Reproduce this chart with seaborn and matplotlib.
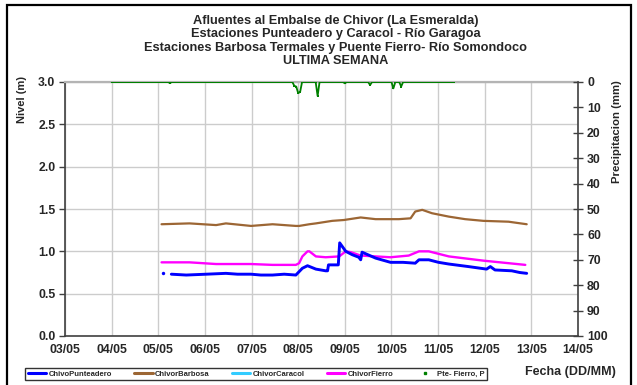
import numpy as np
import pandas as pd
import matplotlib
matplotlib.use("Agg")
import matplotlib.pyplot as plt
from matplotlib.lines import Line2D
from matplotlib.patches import Rectangle
import seaborn as sns

# ---------------------------------------------------------------- data
# x axis: days counted from 03/05 00:00
day_labels = ["03/05", "04/05", "05/05", "06/05", "07/05", "08/05",
              "09/05", "10/05", "11/05", "12/05", "13/05", "14/05"]

# ChivoPunteadero level (m)
punteadero_day = [2.10, 2.28, 2.60, 3.03, 3.45, 3.70, 3.99, 4.20, 4.45, 4.70, 4.95,
                  5.09, 5.20, 5.38, 5.59, 5.63, 5.65, 5.86, 5.89, 6.02, 6.16, 6.30,
                  6.34, 6.37, 6.66, 6.98, 7.25, 7.51, 7.59, 7.80, 8.01, 8.23, 8.65,
                  9.04, 9.12, 9.22, 9.58, 9.75, 9.90]
punteadero_m = [np.nan, 0.73, 0.72, 0.73, 0.74, 0.73, 0.73, 0.72, 0.72, 0.73, 0.72,
                0.80, 0.83, 0.79, 0.77, 0.77, 0.84, 0.84, 1.10, 1.00, 0.96, 0.93,
                0.90, 0.99, 0.92, 0.87, 0.87, 0.86, 0.90, 0.90, 0.87, 0.85, 0.82,
                0.79, 0.82, 0.78, 0.77, 0.75, 0.74]
# isolated first reading before the record gap
punteadero_first_day = [2.10]
punteadero_first_m = [0.75]

# ChivorBarbosa level (m)
barbosa_day = [2.07, 2.67, 3.24, 3.45, 3.99, 4.45, 4.95, 5.02, 5.24, 5.38, 5.73,
               5.98, 6.34, 6.66, 7.16, 7.41, 7.51, 7.66, 7.87, 8.23, 8.58, 8.97,
               9.51, 9.90]
barbosa_m = [1.32, 1.33, 1.31, 1.33, 1.30, 1.32, 1.30, 1.30, 1.32, 1.33, 1.36,
             1.37, 1.40, 1.38, 1.38, 1.39, 1.47, 1.49, 1.45, 1.41, 1.38, 1.36,
             1.35, 1.32]

# ChivorFierro level (m)
fierro_day = [2.07, 2.67, 3.24, 3.99, 4.45, 4.95, 5.02, 5.09, 5.20, 5.24, 5.38,
              5.59, 5.88, 6.02, 6.13, 6.34, 6.66, 6.98, 7.37, 7.59, 7.80, 8.23,
              8.97, 9.51, 9.87]
fierro_m = [0.87, 0.87, 0.85, 0.85, 0.84, 0.84, 0.86, 0.94, 1.00, 1.00, 0.94,
            0.93, 0.94, 1.00, 0.99, 0.95, 0.94, 0.93, 0.95, 1.00, 1.00, 0.94,
            0.89, 0.86, 0.84]

# Pte- Fierro rainfall: hourly record, dry except for these hours
rain_hours = np.arange(24, 201)
rain_event_hour = [54, 118, 119, 120, 121, 130, 144, 157, 169, 173]
rain_event_mm = [0.4, 1.5, 1.8, 4.4, 3.9, 5.5, 0.5, 1.2, 2.5, 1.8]

# ---------------------------------------------------------------- frames
levels = pd.concat([
    pd.DataFrame({"dia": punteadero_day, "nivel": punteadero_m, "estacion": "ChivoPunteadero"}),
    pd.DataFrame({"dia": barbosa_day, "nivel": barbosa_m, "estacion": "ChivorBarbosa"}),
    pd.DataFrame({"dia": fierro_day, "nivel": fierro_m, "estacion": "ChivorFierro"}),
], ignore_index=True)

rain_mm = np.zeros(len(rain_hours))
for h, v in zip(rain_event_hour, rain_event_mm):
    rain_mm[rain_hours == h] = v
rain = pd.DataFrame({"dia": rain_hours / 24.0, "mm": rain_mm})

colors = {"ChivoPunteadero": "#0000ff", "ChivorBarbosa": "#9c6634",
          "ChivorCaracol": "#33ccff", "ChivorFierro": "#ff00ff"}
widths = {"ChivoPunteadero": 2.1, "ChivorBarbosa": 1.6, "ChivorFierro": 1.7}
rain_color = "#008000"

# ---------------------------------------------------------------- style
sns.set_style("white")
plt.rcParams["font.family"] = ["Liberation Sans", "DejaVu Sans"]
plt.rcParams["font.weight"] = "bold"
plt.rcParams["axes.labelweight"] = "bold"

fig = plt.figure(figsize=(6.37, 3.85), dpi=100)
ax = fig.add_axes([65 / 637, 1 - 336 / 385, (578 - 65) / 637, (336 - 82) / 385])

ax.set_xlim(0, 11)
ax.set_ylim(0, 3)
ax.set_axisbelow(True)
ax.grid(True, color="#cccccc", linewidth=1.0)

for name in ["ChivorBarbosa", "ChivorFierro", "ChivoPunteadero"]:
    sub = levels[levels["estacion"] == name].dropna()
    sns.lineplot(data=sub, x="dia", y="nivel", ax=ax, color=colors[name],
                 linewidth=widths[name], estimator=None, sort=False, legend=False)
sns.scatterplot(x=punteadero_first_day, y=punteadero_first_m, ax=ax,
                color=colors["ChivoPunteadero"], s=6, linewidth=0, legend=False)

ax.set_xticks(range(len(day_labels)))
ax.set_xticklabels(day_labels)
ax.set_yticks(np.arange(0, 3.01, 0.5))
ax.set_yticklabels([f"{v:.1f}" for v in np.arange(0, 3.01, 0.5)])
ax.set_xlabel("")
ax.set_ylabel("")
ax.tick_params(axis="y", direction="out", length=4, width=1, color="#404040",
               labelsize=8.8, pad=3)
ax.tick_params(axis="x", direction="inout", length=5, width=1, color="#404040",
               labelsize=8.8, pad=3)
for lab in ax.get_xticklabels() + ax.get_yticklabels():
    lab.set_fontweight("bold")

ax.spines["top"].set_color("#b4b4b4")
ax.spines["top"].set_linewidth(1.6)
ax.spines["left"].set_color("#404040")
ax.spines["bottom"].set_color("#404040")
ax.spines["right"].set_visible(False)
for s in ["left", "bottom"]:
    ax.spines[s].set_linewidth(1.2)

# rainfall on an inverted secondary axis
ax2 = ax.twinx()
sns.lineplot(data=rain, x="dia", y="mm", ax=ax2, color=rain_color, linewidth=1.3,
             marker="s", markersize=1.6, markeredgewidth=0, estimator=None,
             sort=False, legend=False)
ax2.set_ylim(100, 0)
ax2.set_yticks(range(0, 101, 10))
ax2.set_ylabel("")
ax2.tick_params(axis="y", direction="inout", length=7, width=1, color="#404040",
                labelsize=8.8, pad=3)
for lab in ax2.get_yticklabels():
    lab.set_fontweight("bold")
for s in ["top", "left", "bottom"]:
    ax2.spines[s].set_visible(False)
ax2.spines["right"].set_color("#404040")
ax2.spines["right"].set_linewidth(1.2)

# ---------------------------------------------------------------- text
fig.text(336 / 637, 1 - 15 / 385,
         "Afluentes al Embalse de Chivor (La Esmeralda)\n"
         "Estaciones Punteadero y Caracol - Río Garagoa\n"
         "Estaciones Barbosa Termales y Puente Fierro- Río Somondoco\n"
         "ULTIMA SEMANA",
         ha="center", va="top", fontsize=9.2, fontweight="bold", linespacing=1.15)
fig.text(22 / 637, 1 - 76 / 385, "Nivel (m)", rotation=90, ha="center", va="top",
         fontsize=8, fontweight="bold")
fig.text(617 / 637, 1 - 80 / 385, "Precipitacion (mm)", rotation=90, ha="center",
         va="top", fontsize=8.2, fontweight="bold")
fig.text(570 / 637, 1 - 372 / 385, "Fecha (DD/MM)", ha="center", va="center",
         fontsize=9, fontweight="bold")

# ---------------------------------------------------------------- legend
handles = [Line2D([], [], color=colors["ChivoPunteadero"], lw=2.2),
           Line2D([], [], color=colors["ChivorBarbosa"], lw=2.2),
           Line2D([], [], color=colors["ChivorCaracol"], lw=2.2),
           Line2D([], [], color=colors["ChivorFierro"], lw=2.2),
           Line2D([], [], color=rain_color, lw=0, marker="s", markersize=2)]
labels = ["ChivoPunteadero", "ChivorBarbosa", "ChivorCaracol", "ChivorFierro",
          "Pte- Fierro, P"]
leg = fig.legend(handles, labels, loc="center", ncol=5, mode="expand",
                 bbox_to_anchor=(25 / 637, 1 - 382 / 385, 462 / 637, 16 / 385),
                 prop={"size": 5.5, "weight": "bold"}, frameon=True,
                 fancybox=False, handlelength=2.4, handletextpad=0.3,
                 borderpad=0.35, columnspacing=1.0, borderaxespad=0)
leg.get_frame().set_edgecolor("black")
leg.get_frame().set_linewidth(1.0)

# outer chart frame
fig.add_artist(Rectangle((7 / 637, -0.05), 624 / 637, 1.05 - 5 / 385,
                         transform=fig.transFigure, fill=False,
                         edgecolor="black", linewidth=1.6))

fig.savefig("out.png", dpi=100)
